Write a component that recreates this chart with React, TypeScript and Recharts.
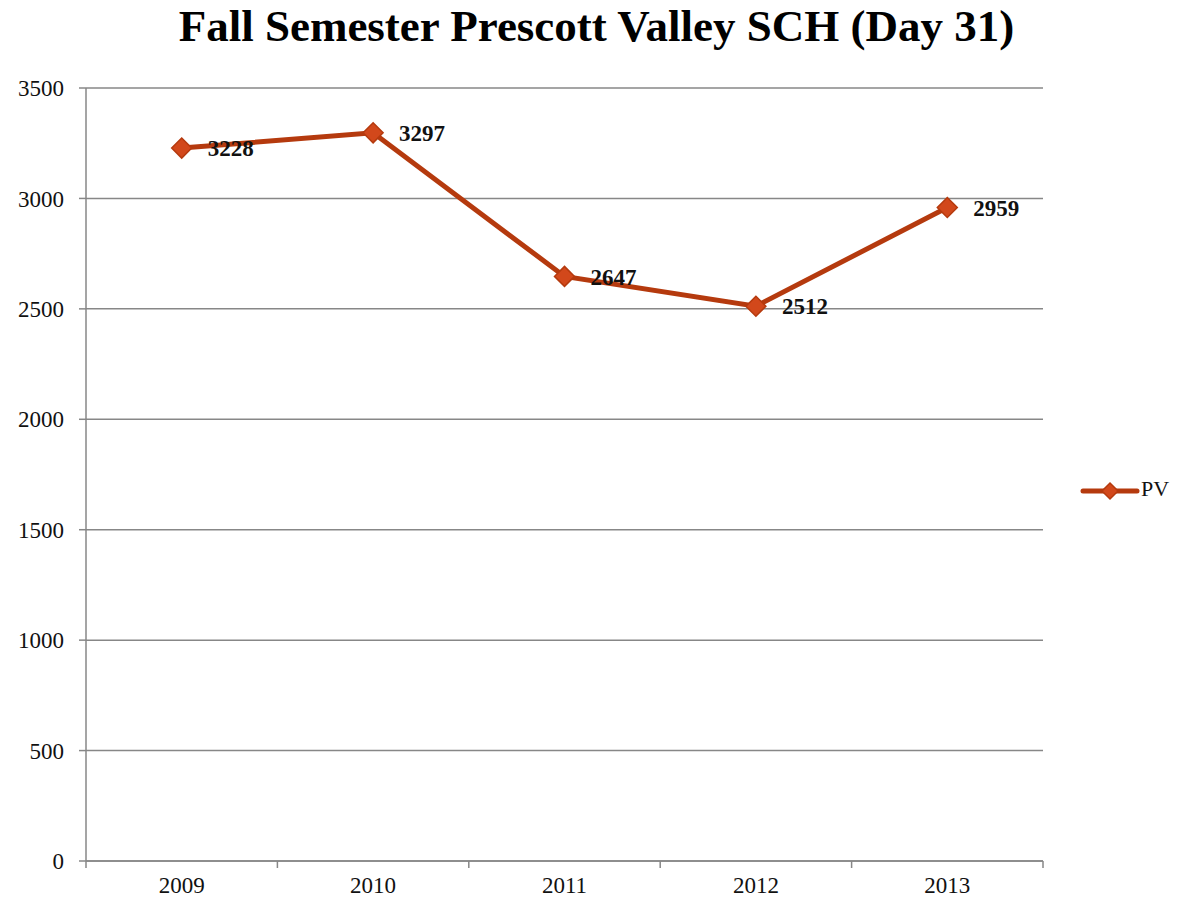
import React from "react";
import { LineChart, Line, XAxis, YAxis, CartesianGrid, LabelList } from "recharts";

const years = ["2009", "2010", "2011", "2012", "2013"];
const pvValues = [3228, 3297, 2647, 2512, 2959];
const yTicks = [0, 500, 1000, 1500, 2000, 2500, 3000, 3500];

const data = years.map((year, i) => ({ year, PV: pvValues[i] }));

const LINE = "#B53A0E";
const MARK = "#D2481B";
const AXIS = "#878787";
const FONT = "'Liberation Serif', 'Times New Roman', serif";

const Diamond = (props: any) => {
  const { cx, cy } = props;
  if (cx == null || cy == null) return null;
  const r = 10;
  return (
    <path
      d={`M${cx},${cy - r} L${cx + r},${cy} L${cx},${cy + r} L${cx - r},${cy} Z`}
      fill={MARK}
      stroke={LINE}
      strokeWidth={1.5}
    />
  );
};

const XTick = (props: any) => {
  const { x, y, payload, index } = props;
  const half = payload.offset || 0;
  const last = index === years.length - 1;
  return (
    <g>
      <line x1={x - half} x2={x - half} y1={y - 8} y2={y - 1} stroke={AXIS} strokeWidth={1.5} />
      {last && <line x1={x + half} x2={x + half} y1={y - 8} y2={y - 1} stroke={AXIS} strokeWidth={1.5} />}
      <text x={x} y={y + 24} textAnchor="middle" fontFamily={FONT} fontSize={23} fill="#111">
        {payload.value}
      </text>
    </g>
  );
};

const ValueLabel = (props: any) => {
  const { x, y, value } = props;
  return (
    <text x={x + 26} y={y + 3} dominantBaseline="middle" fontFamily={FONT} fontSize={23} fontWeight="bold" fill="#111">
      {value}
    </text>
  );
};

export default function App() {
  return (
    <div style={{ position: "absolute", left: 0, top: 0, width: 1183, height: 904, background: "#fff" }}>
      <div
        style={{
          position: "absolute",
          left: 0,
          top: 0,
          width: 1193,
          textAlign: "center",
          fontFamily: FONT,
          fontWeight: "bold",
          fontSize: 45,
          color: "#000",
          whiteSpace: "nowrap",
        }}
      >
        Fall Semester Prescott Valley SCH (Day 31)
      </div>
      <div style={{ position: "absolute", left: 1080, top: 477 }}>
        <svg width={100} height={30}>
          <line x1={3} x2={57} y1={14} y2={14} stroke={LINE} strokeWidth={5} strokeLinecap="round" />
          <path d="M30,6 L38,14 L30,22 L22,14 Z" fill={MARK} stroke={LINE} strokeWidth={1.5} />
          <text x={61} y={14} dominantBaseline="middle" fontFamily={FONT} fontSize={22} fill="#111">
            PV
          </text>
        </svg>
      </div>
      <LineChart width={1183} height={904} data={data} margin={{ top: 88, right: 140, left: 0, bottom: 0 }}>
        <CartesianGrid vertical={false} stroke={AXIS} strokeWidth={1.5} />
        <XAxis
          dataKey="year"
          scale="band"
          height={43}
          axisLine={{ stroke: AXIS, strokeWidth: 1.5 }}
          tickLine={false}
          tick={<XTick />}
          interval={0}
        />
        <YAxis
          domain={[0, 3500]}
          ticks={yTicks}
          width={86}
          axisLine={{ stroke: AXIS, strokeWidth: 1.5 }}
          tickLine={{ stroke: AXIS, strokeWidth: 1.5 }}
          tickSize={7}
          tickMargin={15}
          tick={{ fontFamily: FONT, fontSize: 23, fill: "#111" }}
        />
        <Line
          type="linear"
          dataKey="PV"
          stroke={LINE}
          strokeWidth={5}
          dot={<Diamond />}
          activeDot={false}
          isAnimationActive={false}
        >
          <LabelList dataKey="PV" content={<ValueLabel />} />
        </Line>
      </LineChart>
    </div>
  );
}
